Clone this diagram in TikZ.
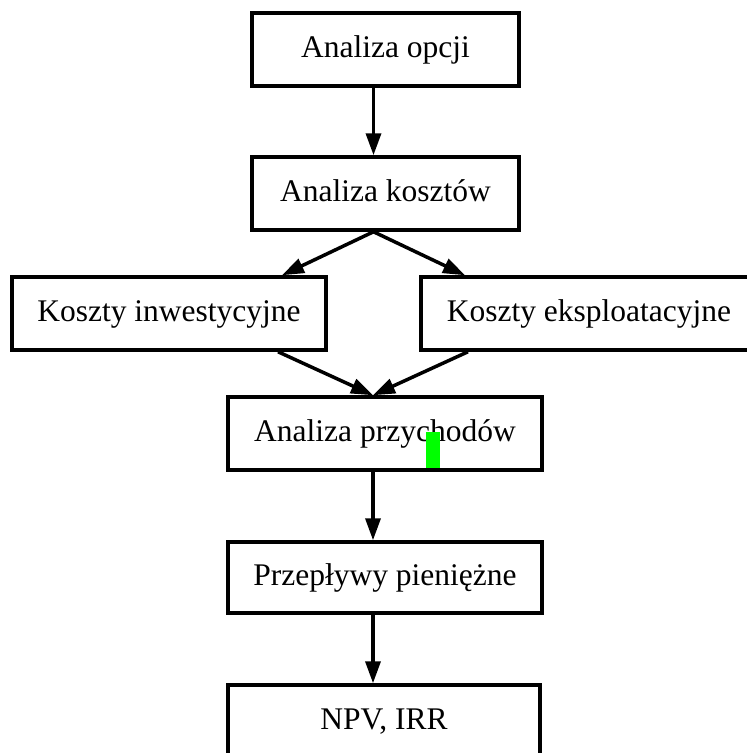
\documentclass[tikz,border=0pt]{standalone}
\usepackage{fontspec}
\setmainfont{Liberation Serif}
\usepackage{tikz}
\usetikzlibrary{arrows.meta}
\tikzset{
    stepbox/.style = {rectangle, draw=black, line width=3.5pt, fill=white, minimum height=73pt, inner xsep=0pt, text height=22pt, text depth=7pt, font=\fontsize{31.5}{36}\selectfont},
    arrow/.style = {line width=3.5pt, -{Triangle[length=22pt,width=15pt]}}
}

\begin{document}
\begin{tikzpicture}[x=1pt,y=-1pt]
    \clip (0,0) rectangle (747,753);
    \fill[white] (0,0) rectangle (747,753);

    % Steps
    \node[stepbox, minimum width=267pt] (opcje) at (385.5,49.5) {Analiza opcji};
    \node[stepbox, minimum width=267pt] (koszty) at (385.5,193.5) {Analiza kosztów};
    \node[stepbox, minimum width=314pt] (inwest) at (169,313.5) {Koszty inwestycyjne};
    \node[stepbox, minimum width=336pt] (eksploat) at (589,313.5) {Koszty eksploatacyjne};
    \node[stepbox, minimum width=314pt] (przychody) at (385,433.5) {Analiza przychodów};
    \node[stepbox, minimum width=314pt, minimum height=71pt] (przeplywy) at (385,577.5) {Przepływy pieniężne};
    \node[stepbox, minimum width=312pt] (npv) at (384,721.5) {NPV, IRR};

    % Flow
    \draw[arrow] ([xshift=-12pt]opcje.south) -- ([xshift=-12pt]koszty.north);
    \draw[arrow] ([xshift=-12pt]koszty.south) -- ([xshift=113pt]inwest.north);
    \draw[arrow] ([xshift=-12pt]koszty.south) -- ([xshift=-124pt]eksploat.north);
    \draw[arrow] ([xshift=109pt]inwest.south) -- ([xshift=-12pt]przychody.north);
    \draw[arrow] ([xshift=-121pt]eksploat.south) -- ([xshift=-12pt]przychody.north);
    \draw[arrow] ([xshift=-12pt]przychody.south) -- ([xshift=-12pt]przeplywy.north);
    \draw[arrow] ([xshift=-12pt]przeplywy.south) -- ([xshift=-11pt]npv.north);

    % Marker
    \fill[green] (426,432) rectangle (440,468);
\end{tikzpicture}
\end{document}
